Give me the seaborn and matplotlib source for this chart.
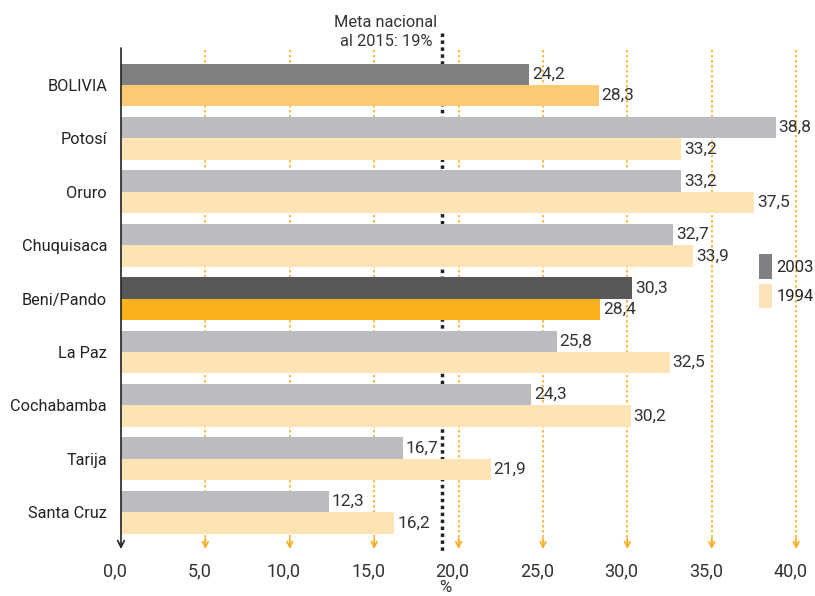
import matplotlib
matplotlib.use("Agg")
import matplotlib.pyplot as plt
import matplotlib.transforms as mtransforms
from matplotlib.patches import Patch
import seaborn as sns
import pandas as pd

regions = ["BOLIVIA", "Potosí", "Oruro", "Chuquisaca", "Beni/Pando",
           "La Paz", "Cochabamba", "Tarija", "Santa Cruz"]
v2003 = [24.2, 38.8, 33.2, 32.7, 30.3, 25.8, 24.3, 16.7, 12.3]
v1994 = [28.3, 33.2, 37.5, 33.9, 28.4, 32.5, 30.2, 21.9, 16.2]
years = ["2003", "1994"]
xticks = [0, 5, 10, 15, 20, 25, 30, 35, 40]
meta = 19

sns.set_theme(style="white")
plt.rcParams['font.family'] = ['Roboto', 'DejaVu Sans']

df = pd.DataFrame({
    "region": regions * 2,
    "year": ["2003"] * len(regions) + ["1994"] * len(regions),
    "value": v2003 + v1994,
})

W, H = 815, 596
fig = plt.figure(figsize=(W / 100, H / 100), dpi=100)
ax_left, ax_right, ax_top, ax_bottom = 121, 805, 48, 548
ax = fig.add_axes([ax_left / W, (H - ax_bottom) / H,
                   (ax_right - ax_left) / W, (ax_bottom - ax_top) / H])

c2003 = "#bbbcbf"
c1994 = "#fee3b5"
sns.barplot(data=df, y="region", x="value", hue="year", order=regions,
            hue_order=years, palette=[c2003, c1994], width=0.8,
            ax=ax, legend=False, zorder=3, saturation=1)

special = {"BOLIVIA": ("#808083", "#fdca74"), "Beni/Pando": ("#58585a", "#fbb11c")}
for hi, cont in enumerate(ax.containers):
    for i, patch in enumerate(cont.patches):
        patch.set_edgecolor("none")
        r = regions[i]
        if r in special:
            patch.set_facecolor(special[r][hi])
    ax.bar_label(cont, labels=[f"{v:.1f}".replace(".", ",") for v in cont.datavalues],
                 padding=2, fontsize=12.5, color="#333333", zorder=5)

xmax = (ax_right - ax_left) / 16.88
ax.set_xlim(0, xmax)
ylo = -(85 - 48) / 53.4
yhi = (548 - 85) / 53.4
ax.set_ylim(yhi, ylo)

for s in ax.spines.values():
    s.set_visible(False)

# orange dotted gridlines with arrowheads
for xv in xticks[1:]:
    ax.plot([xv, xv], [ylo + 0.04, yhi - 0.1], color="#f9ae22", lw=1.2,
            ls=(0, (1.5, 1.5)), zorder=1)
    ax.annotate("", xy=(xv, yhi + 0.02), xytext=(xv, yhi - 0.18),
                arrowprops=dict(arrowstyle="->", color="#f9ae22", lw=1.2,
                                mutation_scale=10, shrinkA=0, shrinkB=0),
                zorder=1, annotation_clip=False)

# meta line
ax.plot([meta, meta], [ylo - 0.28, yhi + 0.06], color="#222222", lw=2.5,
        ls=(0, (1, 1)), zorder=2, clip_on=False)
ax.text(meta - 0.25, ylo + 0.02, "Meta nacional\nal 2015: 19%", ha="right",
        va="bottom", fontsize=11.8, color="#333333", linespacing=1.3,
        multialignment="center")

# y axis line with arrow
ax.annotate("", xy=(0, yhi + 0.02), xytext=(0, ylo),
            arrowprops=dict(arrowstyle="->", color="#222222", lw=1.2,
                            mutation_scale=12, shrinkA=0, shrinkB=0),
            zorder=4, annotation_clip=False)

ax.set_xticks(xticks)
ax.set_xticklabels([f"{x:.1f}".replace(".", ",") for x in xticks],
                   fontsize=13, color="#333333")
ax.tick_params(axis="x", length=0, pad=10)
ax.tick_params(axis="y", length=0, pad=10, labelsize=11.7, labelcolor="#222222")
shift = mtransforms.ScaledTranslation(-6 / 100, 0, fig.dpi_scale_trans)
for t in ax.xaxis.get_major_ticks():
    t.label1.set_transform(t.label1.get_transform() + shift)
ax.set_ylabel("")
ax.set_xlabel("%", fontsize=12, color="#333333")
ax.xaxis.set_label_coords((445 - ax_left) / (ax_right - ax_left),
                          -(588 - ax_bottom) / (ax_bottom - ax_top))
ax.xaxis.label.set_va("center")

# legend
handles = [Patch(facecolor="#808084", edgecolor="none"),
           Patch(facecolor="#fee3b8", edgecolor="none")]
fig.legend(handles, years, loc="upper left",
           bbox_to_anchor=(759 / W, 1 - 254 / H), frameon=False,
           borderpad=0, borderaxespad=0,
           handlelength=0.8, handleheight=1.9, handletextpad=0.25,
           labelspacing=0.3, fontsize=12)

fig.savefig("out.png", dpi=100)
